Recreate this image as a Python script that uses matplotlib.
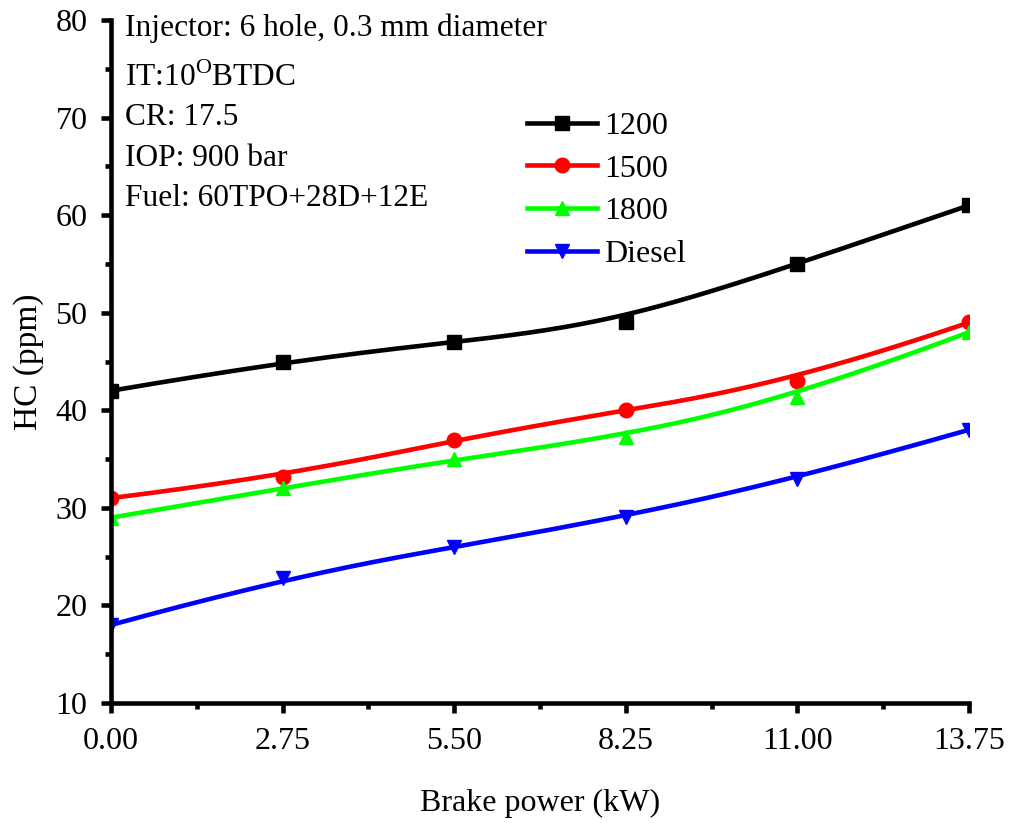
import numpy as np
from matplotlib import pyplot as plt
from matplotlib.ticker import MultipleLocator

plt.rcParams['font.family'] = 'Liberation Serif'
plt.rcParams['mathtext.fontset'] = 'custom'
plt.rcParams['mathtext.rm'] = 'Liberation Serif'

# brake power (kW) and HC emissions (ppm) for each injection pressure setting
power = [0.0, 2.75, 5.5, 8.25, 11.0, 13.75]
hc_1200 = [42, 45, 47, 49, 55, 61]
hc_1500 = [31, 33.2, 37, 40, 43, 49]
hc_1800 = [29, 32, 35, 37.3, 41.4, 48]
hc_diesel = [18, 22.8, 26, 29.1, 33, 38]
labels = ['1200', '1500', '1800', 'Diesel']


def bspline(xs, ys, num=200):
    # clamped cubic B-spline using the points as control polygon
    pts = np.column_stack([xs, ys]).astype(float)
    n = len(pts)
    k = 3
    knots = np.concatenate([np.zeros(k), np.arange(n - k + 1), np.full(k, n - k)])
    t = np.linspace(0, n - k, num)
    t[-1] -= 1e-9
    out = []
    for tv in t:
        N = np.zeros(len(knots) - 1)
        for i in range(len(knots) - 1):
            N[i] = 1.0 if knots[i] <= tv < knots[i + 1] else 0.0
        for d in range(1, k + 1):
            for i in range(len(knots) - 1 - d):
                a = 0.0 if knots[i + d] == knots[i] else (tv - knots[i]) / (knots[i + d] - knots[i]) * N[i]
                b = 0.0 if knots[i + d + 1] == knots[i + 1] else (knots[i + d + 1] - tv) / (knots[i + d + 1] - knots[i + 1]) * N[i + 1]
                N[i] = a + b
        out.append(N[:n] @ pts)
    out = np.array(out)
    return out[:, 0], out[:, 1]


fig = plt.figure(figsize=(10.12, 8.23), dpi=100)
ax = fig.add_axes([0.1097, 0.1458, 0.8478, 0.8299])

series = [(hc_1200, 'black', 's'), (hc_1500, 'red', 'o'),
          (hc_1800, '#00ff00', '^'), (hc_diesel, 'blue', 'v')]
for (vals, col, mk), lab in zip(series, labels):
    sx, sy = bspline(power, vals)
    ax.plot(sx, sy, color=col, lw=3.3)
    ax.plot(power, vals, linestyle='none', marker=mk, color=col, ms=10.5)
    # legend proxy
    ax.plot([], [], color=col, lw=3.3, marker=mk, ms=10.5, label=lab)

ax.set_xlim(0, 13.75)
ax.set_ylim(10, 80)
ax.set_xticks(power)
ax.set_xticklabels(['%.2f' % p for p in power])
ax.xaxis.set_minor_locator(MultipleLocator(1.375))
ax.yaxis.set_major_locator(MultipleLocator(10))
ax.yaxis.set_minor_locator(MultipleLocator(5))

for side in ['top', 'right']:
    ax.spines[side].set_visible(False)
for side in ['left', 'bottom']:
    ax.spines[side].set_linewidth(3.3)
ax.tick_params(which='major', direction='out', length=7, width=3.3, labelsize=23, pad=10)
ax.tick_params(which='minor', direction='out', length=4, width=3.3)

ax.set_xlabel('Brake power (kW)', fontsize=23, labelpad=24)
ax.set_ylabel('HC (ppm)', fontsize=24, labelpad=8)

notes = ['Injector: 6 hole, 0.3 mm diameter', r'IT:10$^\mathregular{O}$BTDC',
         'CR: 17.5', 'IOP: 900 bar', 'Fuel: 60TPO+28D+12E']
note_y = [0.988, 0.915, 0.857, 0.797, 0.738]
for txt, yy in zip(notes, note_y):
    ax.text(0.016, yy, txt, transform=ax.transAxes, fontsize=22.6, va='center', ha='left')

ax.legend(loc='upper left', bbox_to_anchor=(0.485, 0.866), frameon=False, fontsize=23,
          handlelength=2.2, handletextpad=0.2, labelspacing=0.42,
          borderpad=0, borderaxespad=0)

plt.savefig('out.png', dpi=100)
